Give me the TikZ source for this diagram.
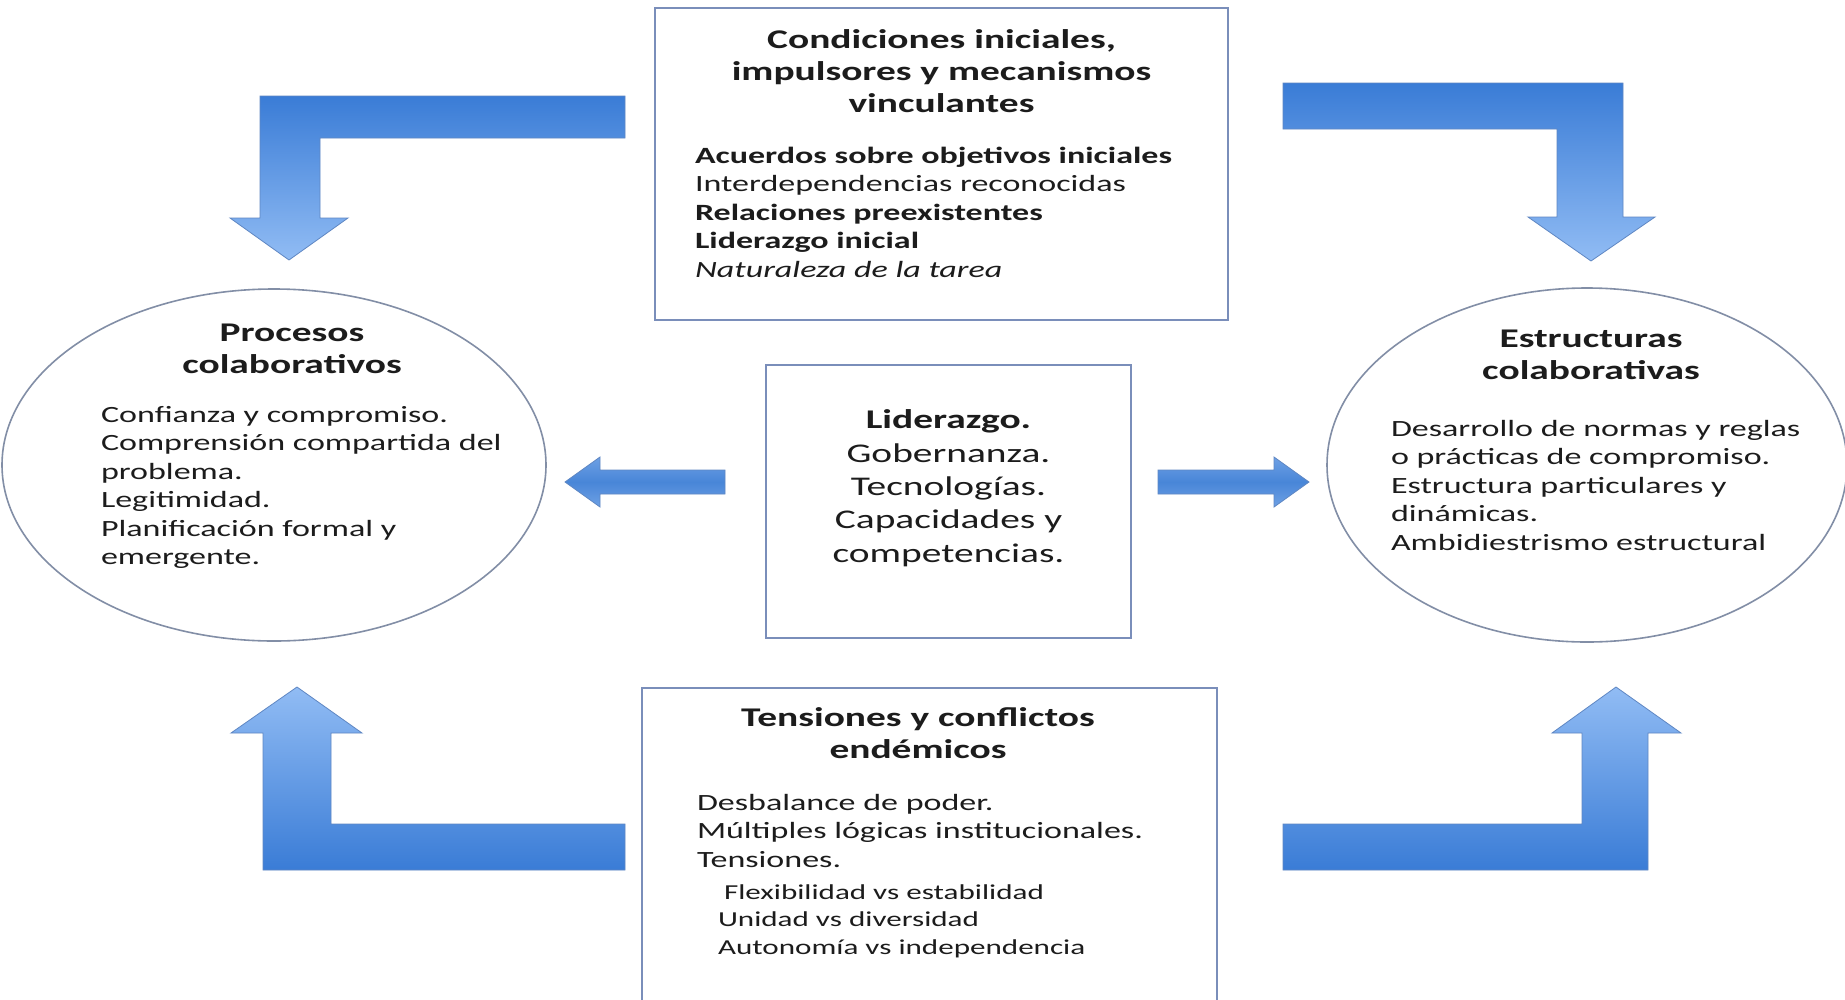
\documentclass[tikz,border=0pt]{standalone}
\usepackage{fontspec}
\setmainfont{Carlito}[FakeStretch=1.46]
\usetikzlibrary{shapes.geometric}
\definecolor{txt}{RGB}{28,28,28}
\definecolor{boxline}{RGB}{122,142,186}
\definecolor{elline}{RGB}{130,142,166}
\definecolor{arrdark}{RGB}{58,124,214}
\definecolor{arrlight}{RGB}{145,188,244}
\definecolor{arrmid}{RGB}{72,134,216}
\definecolor{arrlite}{RGB}{110,160,228}
\definecolor{arrline}{RGB}{95,135,195}
\newcommand{\bodyfnt}{\fontsize{23.3}{28.5}\selectfont}
\newcommand{\titlefnt}{\fontsize{27}{32}\selectfont\bfseries}
\newcommand{\midfnt}{\fontsize{27}{33.3}\selectfont}
\newcommand{\subfnt}{\fontsize{21.3}{27.5}\selectfont}
\tikzset{
  panel/.style={draw=boxline, line width=1.4pt, fill=white, inner sep=0pt, outer sep=0pt},
  oval/.style={ellipse, draw=elline, line width=1.6pt, fill=white, inner sep=0pt, outer sep=0pt},
  tx/.style={inner sep=0pt, outer sep=0pt, text=txt, align=left},
  txc/.style={inner sep=0pt, outer sep=0pt, text=txt, align=center},
  arrdown/.style={top color=arrdark, bottom color=arrlight, draw=arrline, line width=0.8pt},
  arrup/.style={top color=arrlight, bottom color=arrdark, draw=arrline, line width=0.8pt},
  arrside/.style={top color=arrlite, bottom color=arrlite, middle color=arrmid, draw=arrline, line width=0.8pt}
}
\begin{document}
\begin{tikzpicture}[x=1pt,y=-1pt]
\useasboundingbox (0,0) rectangle (1845,999);
\fill[white] (0,0) rectangle (1845,999);
\clip (0,0) rectangle (1845,999);

% boxes and ovals
\node[panel, minimum width=573pt, minimum height=312pt] (cond) at (941.5,164) {};
\node[panel, minimum width=365pt, minimum height=273pt] (lid) at (948.5,501.5) {};
\node[panel, minimum width=575pt, minimum height=340pt] (tens) at (929.5,858) {};
\node[oval, minimum width=544pt, minimum height=352pt] (proc) at (274,465) {};
\node[oval, minimum width=520pt, minimum height=354pt] (estr) at (1587,465) {};

% bent arrows
\shadedraw[arrdown] (625,96) -- (260,96) -- (260,218) -- (230,218) -- (289,260) -- (348,218) -- (320,218) -- (320,138) -- (625,138) -- cycle;
\shadedraw[arrdown] (1283,83) -- (1623,83) -- (1623,217) -- (1655,217) -- (1591,261) -- (1528,217) -- (1557,217) -- (1557,129) -- (1283,129) -- cycle;
\shadedraw[arrup] (297,687) -- (362,733) -- (331,733) -- (331,824) -- (625,824) -- (625,870) -- (263,870) -- (263,733) -- (231,733) -- cycle;
\shadedraw[arrup] (1616,687) -- (1681,733) -- (1648,733) -- (1648,870) -- (1283,870) -- (1283,824) -- (1582,824) -- (1582,733) -- (1552,733) -- cycle;
% side arrows
\shadedraw[arrside] (565,482) -- (600,457) -- (600,470) -- (725,470) -- (725,494) -- (600,494) -- (600,507) -- cycle;
\shadedraw[arrside] (1309,482) -- (1274,457) -- (1274,470) -- (1158,470) -- (1158,494) -- (1274,494) -- (1274,507) -- cycle;

% texts (base anchor = baseline of last line)
\node[txc, anchor=base, font=\titlefnt] (condT) at (941.5,112) {Condiciones iniciales,\\impulsores y mecanismos\\vinculantes};
\node[tx, anchor=base west, font=\bodyfnt] (condB) at (695,277) {\textbf{Acuerdos sobre objetivos iniciales}\\Interdependencias reconocidas\\\textbf{Relaciones preexistentes}\\\textbf{Liderazgo inicial}\\\textit{Naturaleza de la tarea}};

\node[txc, anchor=base, font=\titlefnt] (procT) at (292,373) {Procesos\\colaborativos};
\node[tx, anchor=base west, font=\bodyfnt] (procB) at (101,564.5) {Confianza y compromiso.\\Comprensión compartida del\\problema.\\Legitimidad.\\Planificación formal y\\emergente.};

\node[txc, anchor=base, font=\titlefnt] (estrT) at (1591,379) {Estructuras\\colaborativas};
\node[tx, anchor=base west, font=\bodyfnt] (estrB) at (1391,550) {Desarrollo de normas y reglas\\o prácticas de compromiso.\\Estructura particulares y\\dinámicas.\\Ambidiestrismo estructural};

\node[txc, anchor=base, font=\midfnt] (lidT) at (948.5,562) {\textbf{Liderazgo.}\\Gobernanza.\\Tecnologías.\\Capacidades y\\competencias.};

\node[txc, anchor=base, font=\titlefnt] (tensT) at (918,758) {Tensiones y conflictos\\endémicos};
\node[tx, anchor=base west, font=\bodyfnt] (tensB) at (697,867) {Desbalance de poder.\\Múltiples lógicas institucionales.\\Tensiones.};
\node[tx, anchor=base west, font=\subfnt] (tensS) at (718,954) {\hspace*{6pt}Flexibilidad vs estabilidad\\Unidad vs diversidad\\Autonomía vs independencia};
\end{tikzpicture}
\end{document}
